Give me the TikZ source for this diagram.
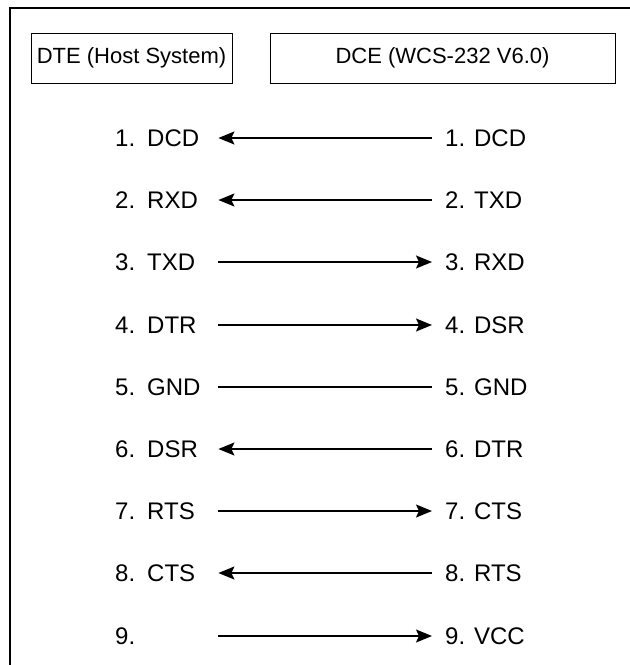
\documentclass[tikz,border=0pt]{standalone}
\usepackage{fontspec}
\setmainfont{Liberation Sans}
\usetikzlibrary{arrows.meta}

\begin{document}
\begin{tikzpicture}[x=1pt,y=-1pt,
  pinL/.style={anchor=west, inner sep=0pt, text width=100pt, align=left, font=\fontsize{24}{26}\selectfont},
  pinR/.style={anchor=west, inner sep=0pt, font=\fontsize{24}{26}\selectfont},
  headbox/.style={draw, line width=1pt, minimum height=50pt, inner sep=0pt, font=\fontsize{22}{24}\selectfont},
  wire/.style={line width=1.5pt, shorten <=3pt, shorten >=13pt},
  tip/.tip={Stealth[length=16pt,width=13pt,inset=3pt]}]
\useasboundingbox (0,0) rectangle (630,665);
% open frame
\coordinate (fbot) at (10,665);
\coordinate (fcorner) at (10,8);
\coordinate (fright) at (630,8);
\draw[line width=1.8pt] (fbot) -- (fcorner) -- (fright);
% header boxes
\node[headbox, minimum width=201pt] (dte) at (131.5,58) {DTE (Host System)};
\node[headbox, minimum width=345pt] (dce) at (442.5,58) {DCE (WCS-232 V6.0)};
% host side
\node[pinL] (l1) at (115,138) {1. DCD};
\node[pinL] (l2) at (115,200) {2. RXD};
\node[pinL] (l3) at (115,262) {3. TXD};
\node[pinL] (l4) at (115,325) {4. DTR};
\node[pinL] (l5) at (115,387) {5. GND};
\node[pinL] (l6) at (115,449) {6. DSR};
\node[pinL] (l7) at (115,511) {7. RTS};
\node[pinL] (l8) at (115,573) {8. CTS};
\node[pinL] (l9) at (115,636) {9.};
% device side
\node[pinR] (r1) at (445,138) {1. DCD};
\node[pinR] (r2) at (445,200) {2. TXD};
\node[pinR] (r3) at (445,262) {3. RXD};
\node[pinR] (r4) at (445,325) {4. DSR};
\node[pinR] (r5) at (445,387) {5. GND};
\node[pinR] (r6) at (445,449) {6. DTR};
\node[pinR] (r7) at (445,511) {7. CTS};
\node[pinR] (r8) at (445,573) {8. RTS};
\node[pinR] (r9) at (445,636) {9. VCC};
% wires
\draw[wire, tip-] (l1.east) -- (r1.west);
\draw[wire, tip-] (l2.east) -- (r2.west);
\draw[wire, -tip] (l3.east) -- (r3.west);
\draw[wire, -tip] (l4.east) -- (r4.west);
\draw[wire] (l5.east) -- (r5.west);
\draw[wire, tip-] (l6.east) -- (r6.west);
\draw[wire, -tip] (l7.east) -- (r7.west);
\draw[wire, tip-] (l8.east) -- (r8.west);
\draw[wire, -tip] (l9.east) -- (r9.west);
\end{tikzpicture}
\end{document}
